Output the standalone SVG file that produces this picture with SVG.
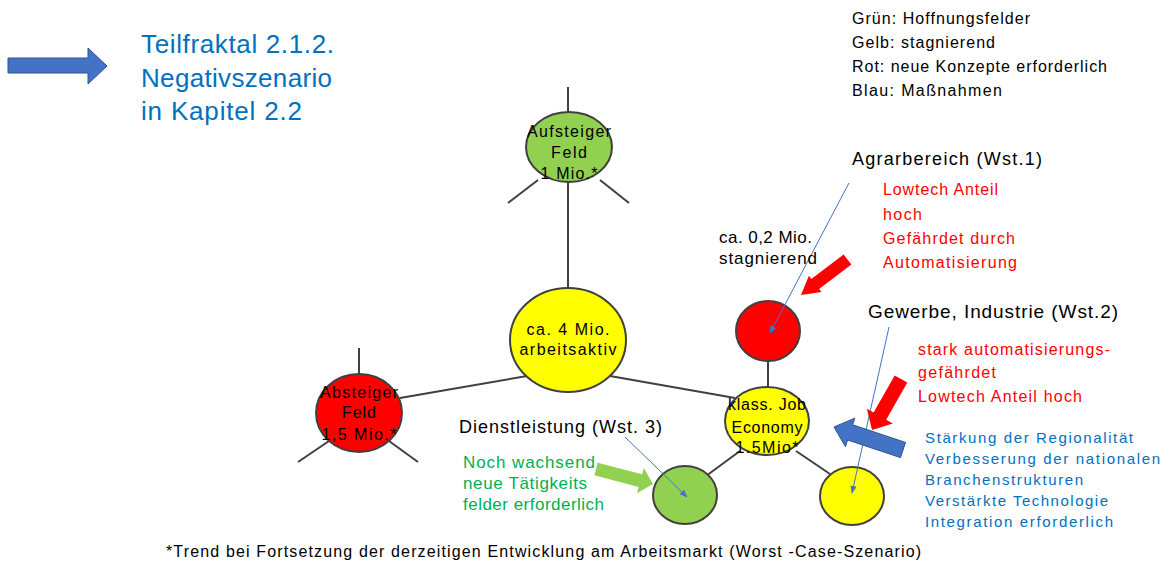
<svg xmlns="http://www.w3.org/2000/svg" width="1171" height="563" viewBox="0 0 1171 563">
<style>
text{font-family:"Liberation Sans",Arial,sans-serif;}
.ln{stroke:#404040;stroke-width:2;fill:none}
.nd{stroke:#404040;stroke-width:2}
.g{fill:#92D050}.y{fill:#FFFF00}.r{fill:#FF0000}
.ct{font-size:16px;fill:#000;text-anchor:middle}
.blk{fill:#000}
.red{fill:#FF0000}
.blu{fill:#0070C0}
.grn{fill:#00B050}
.thin{stroke:#4472C4;stroke-width:1;fill:none;marker-end:url(#ah)}
</style>
<defs>
<marker id="ah" viewBox="0 0 10 10" refX="9" refY="5" markerWidth="8" markerHeight="8" markerUnits="userSpaceOnUse" orient="auto">
<path d="M0,1 L10,5 L0,9 Z" fill="#4472C4"/>
</marker>
</defs>

<g id="connectors">
<line class="ln" x1="568" y1="87" x2="568" y2="113"/>
<line class="ln" x1="538" y1="180" x2="508" y2="203"/>
<line class="ln" x1="600" y1="180" x2="629" y2="203"/>
<line class="ln" x1="568" y1="180" x2="568" y2="290"/>
<line class="ln" x1="359" y1="348" x2="359" y2="376"/>
<line class="ln" x1="329" y1="441" x2="298" y2="462"/>
<line class="ln" x1="389" y1="441" x2="418" y2="462"/>
<line class="ln" x1="400" y1="398" x2="527" y2="376"/>
<line class="ln" x1="610" y1="376" x2="735" y2="398"/>
<line class="ln" x1="768" y1="359" x2="768" y2="389"/>
<line class="ln" x1="740" y1="451" x2="706" y2="476"/>
<line class="ln" x1="796" y1="451" x2="830" y2="474"/>
</g>

<g id="node-aufsteiger">
<ellipse class="nd g" cx="569" cy="147" rx="43" ry="35"/>
<text class="ct" x="569" y="137" textLength="84" lengthAdjust="spacing">Aufsteiger</text>
<text class="ct" x="569" y="158" textLength="36" lengthAdjust="spacing">Feld</text>
<text class="ct" x="569" y="179" textLength="57" lengthAdjust="spacing">1 Mio.*</text>
</g>

<g id="node-main">
<ellipse class="nd y" cx="568" cy="340" rx="58" ry="52"/>
<text class="ct" x="568" y="335" textLength="83" lengthAdjust="spacing">ca. 4 Mio.</text>
<text class="ct" x="568" y="355" textLength="97" lengthAdjust="spacing">arbeitsaktiv</text>
</g>

<g id="node-absteiger">
<ellipse class="nd r" cx="359" cy="413" rx="43" ry="39"/>
<text class="ct" x="359" y="398" textLength="78" lengthAdjust="spacing">Absteiger</text>
<text class="ct" x="359" y="418" textLength="34" lengthAdjust="spacing">Feld</text>
<text class="ct" x="359" y="440" textLength="75" lengthAdjust="spacing">1,5 Mio.*</text>
</g>

<g id="node-agrar">
<ellipse class="nd r" cx="768" cy="331" rx="32" ry="30"/>
</g>

<g id="node-klass">
<ellipse class="nd y" cx="767" cy="421" rx="42" ry="34"/>
<text class="ct" x="767" y="410" textLength="78" lengthAdjust="spacing">klass. Job</text>
<text class="ct" x="767" y="433" textLength="71" lengthAdjust="spacing">Economy</text>
<text class="ct" x="767" y="453" textLength="63" lengthAdjust="spacing">1.5Mio*</text>
</g>

<g id="node-dienst">
<ellipse class="nd g" cx="685" cy="495" rx="32" ry="29"/>
</g>

<g id="node-gewerbe">
<ellipse class="nd y" cx="852" cy="496" rx="32" ry="29"/>
</g>

<g id="pointers">
<line class="thin" x1="849" y1="183" x2="770" y2="333"/>
<line class="thin" x1="625" y1="437" x2="687" y2="497"/>
<line class="thin" x1="889" y1="327" x2="852" y2="493"/>
</g>

<g id="block-arrows">
<polygon points="8,58 88,58 88,48 107,66 88,84 88,73 8,73" fill="#4472C4" stroke="#2F528F" stroke-width="1"/>
<polygon points="843.6,254.5 811.3,278.9 808.9,275.8 801,295 821.5,292 819.1,288.9 851.4,264.5" fill="#FF0000"/>
<polygon points="894.7,375.4 873.6,412.5 866.9,408.7 872,430 892.9,423.5 886.2,419.7 907.3,382.6" fill="#FF0000"/>
<polygon points="905.5,442.4 852.6,424.8 854.8,418.2 834,427 845.4,446.6 847.6,440 900.5,457.6" fill="#4472C4" stroke="#2F528F" stroke-width="1"/>
<polygon points="597.7,462.7 642.1,474.3 643.8,468 653,484 637,493.2 638.7,486.9 594.3,475.3" fill="#92D050"/>
</g>

<g id="title">
<text class="blu" x="141" y="53" font-size="26" textLength="193" lengthAdjust="spacing">Teilfraktal 2.1.2.</text>
<text class="blu" x="141" y="87" font-size="26" textLength="191" lengthAdjust="spacing">Negativszenario</text>
<text class="blu" x="141" y="120" font-size="26" textLength="161" lengthAdjust="spacing">in Kapitel 2.2</text>
</g>

<g id="legend" font-size="16">
<text class="blk" x="852" y="24" textLength="178" lengthAdjust="spacing">Grün: Hoffnungsfelder</text>
<text class="blk" x="852" y="48" textLength="143" lengthAdjust="spacing">Gelb: stagnierend</text>
<text class="blk" x="852" y="72" textLength="255" lengthAdjust="spacing">Rot: neue Konzepte erforderlich</text>
<text class="blk" x="852" y="96" textLength="150" lengthAdjust="spacing">Blau: Maßnahmen</text>
</g>

<g id="labels-agrar">
<text class="blk" x="852" y="165" font-size="18" textLength="190" lengthAdjust="spacing">Agrarbereich (Wst.1)</text>
<text class="red" x="883" y="195" font-size="16" textLength="115" lengthAdjust="spacing">Lowtech Anteil</text>
<text class="red" x="883" y="220" font-size="16" textLength="39" lengthAdjust="spacing">hoch</text>
<text class="red" x="883" y="244" font-size="16" textLength="132" lengthAdjust="spacing">Gefährdet durch</text>
<text class="red" x="883" y="268" font-size="16" textLength="134" lengthAdjust="spacing">Automatisierung</text>
<text class="blk" x="719" y="243" font-size="17" textLength="93" lengthAdjust="spacing">ca. 0,2 Mio.</text>
<text class="blk" x="719" y="264" font-size="17" textLength="98" lengthAdjust="spacing">stagnierend</text>
</g>

<g id="labels-gewerbe">
<text class="blk" x="868" y="318" font-size="19" textLength="250" lengthAdjust="spacing">Gewerbe, Industrie (Wst.2)</text>
<text class="red" x="918" y="355" font-size="16" textLength="192" lengthAdjust="spacing">stark automatisierungs-</text>
<text class="red" x="918" y="378" font-size="16" textLength="78" lengthAdjust="spacing">gefährdet</text>
<text class="red" x="918" y="402" font-size="16" textLength="164" lengthAdjust="spacing">Lowtech Anteil hoch</text>
<text class="blu" x="925" y="443" font-size="15" textLength="208" lengthAdjust="spacing">Stärkung der Regionalität</text>
<text class="blu" x="925" y="464" font-size="15" textLength="235" lengthAdjust="spacing">Verbesserung der nationalen</text>
<text class="blu" x="925" y="485" font-size="15" textLength="158" lengthAdjust="spacing">Branchenstrukturen</text>
<text class="blu" x="925" y="506" font-size="15" textLength="183" lengthAdjust="spacing">Verstärkte Technologie</text>
<text class="blu" x="925" y="527" font-size="15" textLength="188" lengthAdjust="spacing">Integration erforderlich</text>
</g>

<g id="labels-dienst">
<text class="blk" x="459" y="433" font-size="18" textLength="203" lengthAdjust="spacing">Dienstleistung (Wst. 3)</text>
<text class="grn" x="463" y="468" font-size="17" textLength="132" lengthAdjust="spacing">Noch wachsend</text>
<text class="grn" x="463" y="489" font-size="17" textLength="124" lengthAdjust="spacing">neue Tätigkeits</text>
<text class="grn" x="463" y="510" font-size="17" textLength="141" lengthAdjust="spacing">felder erforderlich</text>
</g>

<g id="footer">
<text class="blk" x="166" y="557" font-size="16" textLength="755" lengthAdjust="spacing">*Trend bei Fortsetzung der derzeitigen Entwicklung am Arbeitsmarkt (Worst -Case-Szenario)</text>
</g>
</svg>
